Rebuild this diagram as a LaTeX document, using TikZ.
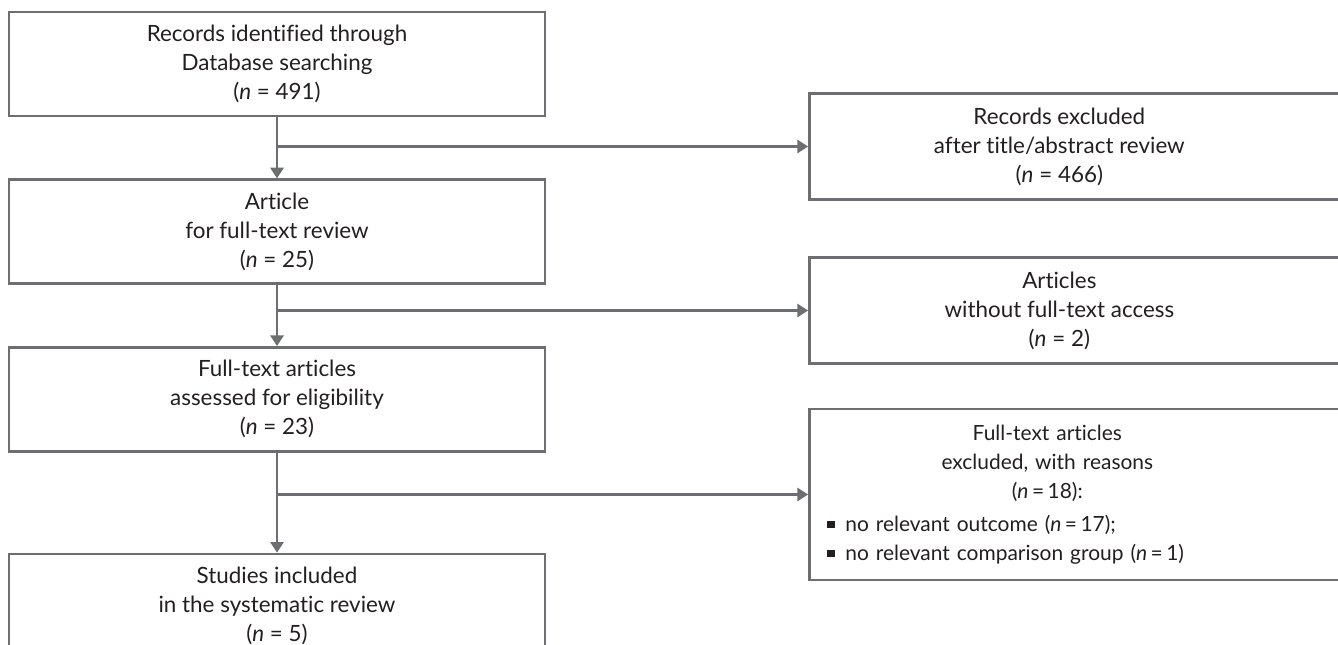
\documentclass[tikz,border=0pt]{standalone}
\usepackage{fontspec}
\setmainfont{Lato}[Ligatures=NoCommon]
\usepackage{tikz}
\usetikzlibrary{arrows.meta,positioning}

\definecolor{linegray}{HTML}{6D6E71}
\definecolor{inkgray}{HTML}{231F20}
\newcommand{\sqbul}{\rule[2.5pt]{5.5pt}{5.5pt}\hspace{8pt}}
\newcommand{\exclreasons}{{\centering Full-text articles\\excluded, with reasons\\(\textit{n}\,=\,18):\par}\vspace{3pt}
  \sqbul no relevant outcome (\textit{n}\,=\,17);\\
  \sqbul no relevant comparison group (\textit{n}\,=\,1)}

\begin{document}
\begin{tikzpicture}[x=0.75pt,y=-0.75pt,
    font=\fontsize{16.8pt}{21.75pt}\selectfont, text=inkgray,
    box/.style={draw=linegray, line width=2pt, minimum width=402pt, minimum height=78pt, align=center, inner sep=0pt},
    exbox/.style={draw=linegray, line width=2pt, minimum width=408pt, minimum height=79.5pt, anchor=west},
    exlabel/.style={align=center, xshift=-16.5pt},
    exlist/.style={text width=330pt, align=left, xshift=-25.5pt, font=\fontsize{15.7pt}{21.75pt}\selectfont},
    arr/.style={draw=linegray, line width=1.6pt, -{Triangle[length=8pt,width=10pt]}}]
				\useasboundingbox (0,0) rectangle (1338,645);
				\clip (0,0) rectangle (1338,645);
				% left column
				\node[box] (rec) at (277,64) {Records identified through\\Database searching\\(\textit{n} = 491)};
				\node[box] (art) [below=45.75pt of rec] {Article\\for full-text review\\(\textit{n} = 25)};
				\node[box] (elig) [below=45.75pt of art] {Full-text articles\\assessed for eligibility\\(\textit{n} = 23)};
				\node[box] (incl) [below=75pt of elig] {Studies included\\in the systematic review\\(\textit{n} = 5)};
				% right column
				\node[exbox, label={[exlabel]center:Records excluded\\after title/abstract review\\(\textit{n} = 466)}] (excl1) at (808,146.5) {};
				\node[exbox, label={[exlabel]center:Articles\\without full-text access\\(\textit{n} = 2)}] (excl2) at (808,310.5) {};
				\node[exbox, minimum height=128.25pt, label={[exlist]center:\exclreasons}] (excl3) at (808,494.5) {};
				% connectors
				\draw[arr] (rec) -- (art);
				\draw[arr] (art) -- (elig);
				\draw[arr] (elig) -- (incl);
				\draw[arr] (rec.south |- excl1.west) -- (excl1);
				\draw[arr] (art.south |- excl2.west) -- (excl2);
				\draw[arr] (elig.south |- excl3.west) -- (excl3);
			\end{tikzpicture}
\end{document}
